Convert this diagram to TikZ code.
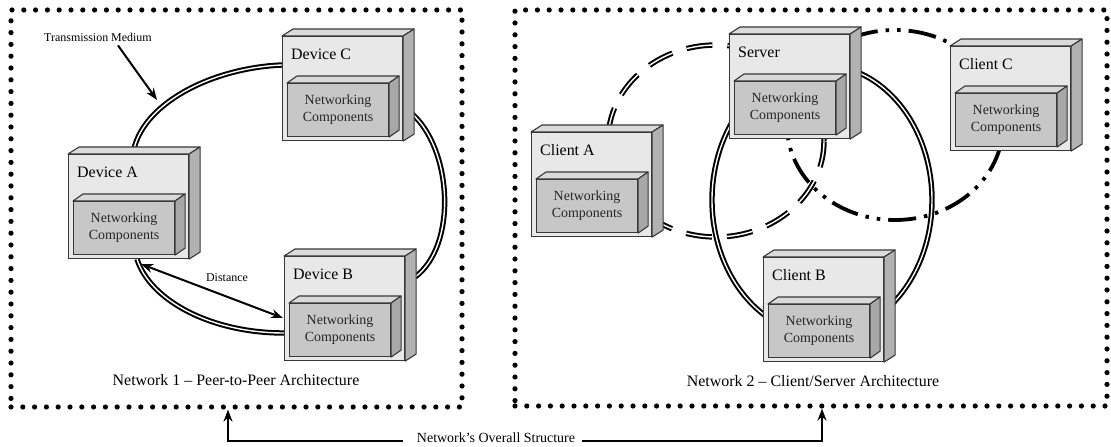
\documentclass[tikz,border=0pt]{standalone}
\usepackage{fontspec}
\setmainfont{Liberation Serif}
\usetikzlibrary{arrows.meta,calc}

\definecolor{faceLight}{gray}{0.91}
\definecolor{faceTop}{gray}{0.86}
\definecolor{faceSide}{gray}{0.70}
\definecolor{coreFront}{gray}{0.78}
\definecolor{coreTop}{gray}{0.85}
\definecolor{coreSide}{gray}{0.66}
\definecolor{edgeGray}{gray}{0.22}

\pgfdeclarelayer{cables}
\pgfsetlayers{cables,main}

\tikzset{
  boxfront/.style={draw=edgeGray, fill=faceLight, line width=1.1bp,
    minimum width=120bp, minimum height=104bp, inner sep=0pt},
  boxface/.style={draw=edgeGray, line width=1.1bp, line join=round},
  corefront/.style={draw=edgeGray, fill=coreFront, line width=1.1bp,
    minimum width=101bp, minimum height=53bp, inner sep=0pt, align=center,
    font=\fontsize{14}{17}\selectfont, text=black!85},
  boxlabel/.style={font=\fontsize{16}{19}\selectfont, inner sep=0pt},
  caption/.style={font=\fontsize{16}{19}\selectfont, inner sep=0pt},
  smalltext/.style={font=\fontsize{12}{14}\selectfont, inner sep=0pt},
  netframe/.style={draw=black, line width=5.2bp, line cap=round,
    dash pattern=on 0bp off 11.8bp, inner sep=0pt},
  cable/.style={draw=black, double=white, line width=2bp, double distance=1.4bp},
  dashcable/.style={cable, dash pattern=on 26bp off 15bp},
  dotcable/.style={draw=black, line width=3.8bp,
    dash pattern=on 28bp off 8bp on 3.5bp off 8bp on 3.5bp off 8bp},
  pointer/.style={draw=black, line width=2bp, -{Stealth[length=12bp,width=9bp]}},
  twopointer/.style={draw=black, line width=2bp,
    {Stealth[length=12bp,width=9bp]}-{Stealth[length=12bp,width=9bp]}},
}

% 3D device box: name, left x, top y, label
\newcommand\netbox[4]{%
  \node[boxfront, anchor=north west] (#1) at (#2,#3) {};
  \filldraw[boxface, fill=faceTop] (#1.north west) -- ++(11,-7)
    -- ($(#1.north east)+(11,-7)$) -- (#1.north east) -- cycle;
  \filldraw[boxface, fill=faceSide] (#1.north east) -- ++(11,-7)
    -- ($(#1.south east)+(11,-7)$) -- (#1.south east) -- cycle;
  \node[boxlabel, anchor=west] (#1-label) at ($(#1.north west)+(9,18)$) {#4};
  \node[corefront, anchor=north west] (#1-core) at ($(#1.north west)+(5,47)$)
    {Networking\\Components};
  \filldraw[boxface, fill=coreTop] (#1-core.north west) -- ++(10,-7)
    -- ($(#1-core.north east)+(10,-7)$) -- (#1-core.north east) -- cycle;
  \filldraw[boxface, fill=coreSide] (#1-core.north east) -- ++(10,-7)
    -- ($(#1-core.south east)+(10,-7)$) -- (#1-core.south east) -- cycle;
}

\begin{document}
\begin{tikzpicture}[x=1bp, y=-1bp]
\useasboundingbox (0,0) rectangle (1111,447);

% outer frames of the two networks
\node[netframe, minimum width=451bp, minimum height=397bp] (net1) at (236.5,208.5) {};
\node[netframe, minimum width=592bp, minimum height=396bp] (net2) at (811,208) {};

% network 1: peer-to-peer devices
\netbox{devA}{68}{154}{Device A}
\netbox{devB}{284}{256}{Device B}
\netbox{devC}{282}{36}{Device C}

% network 2: client/server devices
\netbox{server}{729}{34}{Server}
\netbox{clientA}{531}{132}{Client A}
\netbox{clientB}{763}{257}{Client B}
\netbox{clientC}{950}{46}{Client C}

\node[caption] (cap1) at (236,380) {Network 1 -- Peer-to-Peer Architecture};
\node[caption] (cap2) at (813,381) {Network 2 -- Client/Server Architecture};

% transmission media, behind the boxes
\begin{pgfonlayer}{cables}
  \draw[cable] ($(devA.north west)+(65,0)$) .. controls (140,105) and (210,68)
    .. ($(devC.north west)+(0,29)$);
  \draw[cable] ($(devC.north east)+(8,77)$) .. controls (452,148) and (458,245)
    .. ($(devB.north east)+(10,21)$);
  \draw[cable] ($(devA.south west)+(69,0)$) .. controls (150,300) and (210,333)
    .. ($(devB.north west)+(0,77)$);

  \draw[dashcable] (716,141) ellipse [x radius=108bp, y radius=96bp];
  \draw[cable] (822,200) ellipse [x radius=110bp, y radius=135bp];
  \draw[dotcable] (895,125) ellipse [x radius=108bp, y radius=95bp];
\end{pgfonlayer}

% annotations of network 1
\node[smalltext] (tm) at (98,37) {Transmission Medium};
\coordinate (tmtip) at (157,100);
\draw[pointer] ($(tm.south east)+(-34,4)$) -- (tmtip);

\node[smalltext] (dist) at (227,278) {Distance};
\draw[twopointer] ($(devA.south east)+(-48,5)$) -- ($(devB.north west)+(-1,62)$);

% overall structure
\node[font=\fontsize{14}{16}\selectfont, inner sep=0pt] (overall) at (496,438)
  {Network's Overall Structure};
\draw[pointer] ($(overall.west)+(-14,3.5)$) -| ([xshift=-8.5bp]net1.south);
\draw[pointer] ($(overall.east)+(7,3.5)$) -| ([xshift=11bp]net2.south);
\end{tikzpicture}
\end{document}
